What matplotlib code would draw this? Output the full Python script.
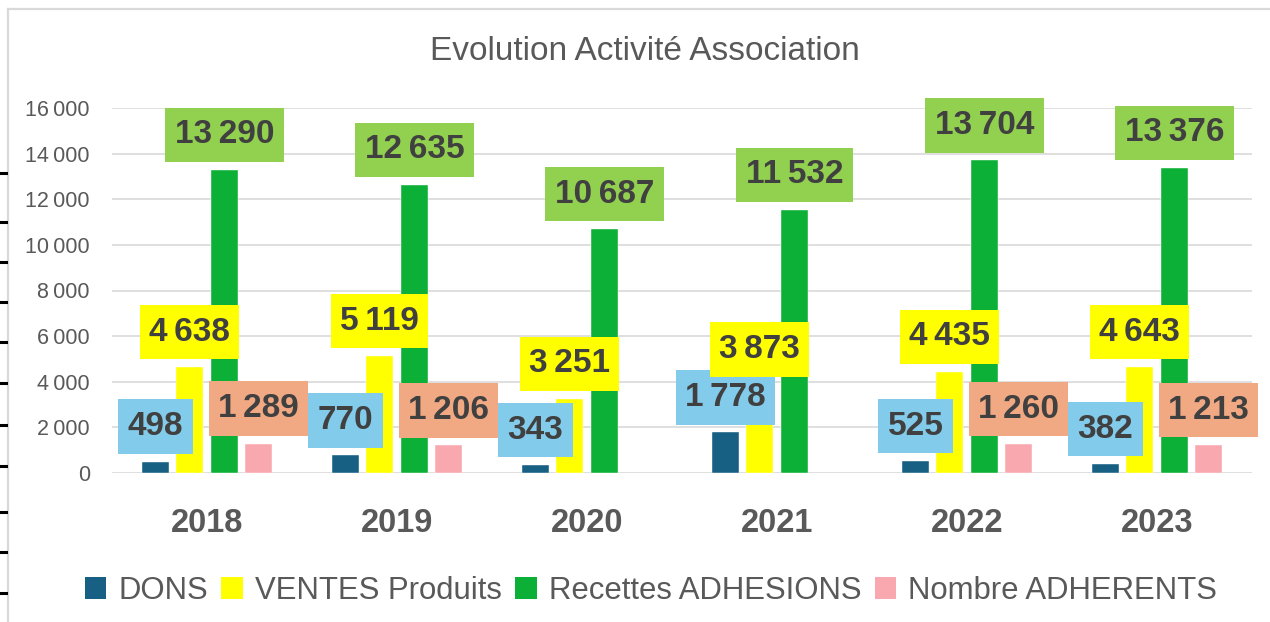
import numpy as np
import matplotlib
matplotlib.use("Agg")
import matplotlib.pyplot as plt
from matplotlib.patches import Patch
from matplotlib.lines import Line2D
from matplotlib.path import Path

# ---- data ----
years = ["2018", "2019", "2020", "2021", "2022", "2023"]
series_names = ["DONS", "VENTES Produits", "Recettes ADHESIONS", "Nombre ADHERENTS"]
dons = [498, 770, 343, 1778, 525, 382]
ventes = [4638, 5119, 3251, 3873, 4435, 4643]
recettes = [13290, 12635, 10687, 11532, 13704, 13376]
adherents = [1289, 1206, np.nan, np.nan, 1260, 1213]
yticks = [0, 2000, 4000, 6000, 8000, 10000, 12000, 14000, 16000]

bar_colors = ["#175f83", "#ffff00", "#0db036", "#f9a8b0"]
label_colors = ["#83cbeb", "#ffff00", "#92d050", "#f1a983"]

FONT = ["Liberation Sans", "DejaVu Sans"]
plt.rcParams["font.family"] = FONT
GRAY = "#595959"
SP = "\u2009"


def fmt(v):
    return f"{int(round(v)):,}".replace(",", SP)


def label_box(x0, y0, width, height, mutation_size):
    px = 0.28 * mutation_size
    py = 0.35 * mutation_size
    x0, y0 = x0 - px, y0 - py
    x1, y1 = x0 + width + 2 * px, y0 + height + 2 * py
    return Path([(x0, y0), (x1, y0), (x1, y1), (x0, y1), (x0, y0)], closed=True)


W, H = 1270, 622
fig = plt.figure(figsize=(W / 100, H / 100), dpi=100)
fig.patch.set_facecolor("white")

ax = fig.add_axes([112 / W, 1 - 473 / H, (1252 - 112) / W, (473 - 108) / H])
ax.set_xlim(-0.5, len(years) - 0.5)
ax.set_ylim(0, 16000)

x = np.arange(len(years))
all_series = [dons, ventes, recettes, adherents]
offsets = [-0.271, -0.092, 0.092, 0.271]
bw = 0.142

for i, vals in enumerate(all_series):
    ax.bar(x + offsets[i], vals, width=bw, color=bar_colors[i], zorder=3,
           edgecolor="white", linewidth=0.3)

for i, vals in enumerate(all_series):
    for xi, v in zip(x, vals):
        if np.isnan(v):
            continue
        ax.annotate(fmt(v), xy=(xi + offsets[i], v), xytext=(0, 35),
                    textcoords="offset pixels", ha="center", va="center",
                    fontsize=24, fontweight="bold", color="#404040",
                    family=FONT, zorder=10 + i, annotation_clip=False,
                    bbox=dict(boxstyle=label_box, fc=label_colors[i], ec="none"))

ax.set_yticks(yticks)
ax.set_yticklabels([fmt(t) for t in yticks], fontsize=15.5, color=GRAY)
ax.set_xticks(x)
ax.set_xticklabels(years, fontsize=23.5, fontweight="bold", color=GRAY)
ax.tick_params(axis="both", length=0)
ax.tick_params(axis="y", pad=16)
ax.tick_params(axis="x", pad=25)
for s in ax.spines.values():
    s.set_visible(False)
ax.yaxis.grid(True, color="#d9d9d9", linewidth=1.2, zorder=0)
ax.set_axisbelow(True)

fig.text(645 / W, 1 - 52 / H, "Evolution Activité Association",
         ha="center", va="center", fontsize=24, color=GRAY)

handles = [Patch(facecolor=c, edgecolor="none") for c in bar_colors]
fig.legend(handles, series_names, loc="center", bbox_to_anchor=(651 / W, 1 - 591 / H),
           ncol=4, frameon=False, fontsize=22.4, labelcolor=GRAY,
           handlelength=0.69, handleheight=0.69, handletextpad=0.4,
           columnspacing=0.42, borderpad=0, borderaxespad=0)

# chart border (screenshot frame)
fig.add_artist(Line2D([7.5 / W, 7.5 / W], [0, 1 - 9 / H], transform=fig.transFigure,
                      color="#d9d9d9", linewidth=1.6))
fig.add_artist(Line2D([7.5 / W, 1], [1 - 9 / H, 1 - 9 / H], transform=fig.transFigure,
                      color="#d9d9d9", linewidth=1.6))
for py in [173, 222, 262, 302, 342, 383, 425, 466, 512, 552, 593]:
    fig.add_artist(Line2D([0, 6 / W], [1 - py / H, 1 - py / H], transform=fig.transFigure,
                          color="black", linewidth=2.2))

fig.savefig("out.png", dpi=100)
